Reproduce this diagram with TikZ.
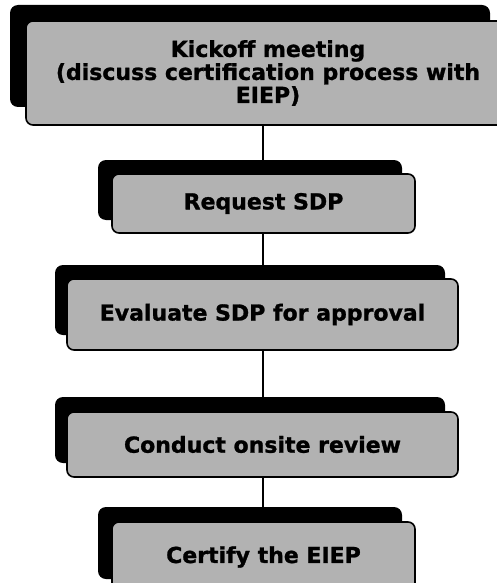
\documentclass[tikz,border=0pt]{standalone}
\usepackage{fontspec}
\setmainfont{DejaVu Sans}
\newfontfamily\boxfont{DejaVu Sans Bold}[FakeBold=1.2]
\begin{document}
\begin{tikzpicture}[x=1pt,y=-1pt,
  back/.style={fill=black, rounded corners=8pt, anchor=north west, inner sep=0pt, outer sep=0pt},
  front/.style={fill=black!30, draw=black, line width=1.6pt, rounded corners=7pt, anchor=north west,
    inner sep=0pt, outer sep=0pt, align=center, font=\boxfont\fontsize{22}{23}\selectfont},
  link/.style={draw=black, line width=1.4pt}]
\clip (0,0) rectangle (497,583);
\fill[white] (0,0) rectangle (497,583);
\coordinate (spine) at (263,0);
% box 1
\node[back, minimum width=480pt, minimum height=102pt] (k1) at (10,5) {};
\node[front, minimum width=484pt, minimum height=104pt] (f1) at (26,21)
  {Kickoff meeting\\(discuss certification process with\\EIEP)};
% box 2
\node[back, minimum width=304pt, minimum height=60pt] (k2) at (98,160) {};
\node[front, minimum width=303pt, minimum height=59pt] (f2) at (112,174) {Request SDP};
% box 3
\node[back, minimum width=390pt, minimum height=70pt] (k3) at (55,265) {};
\node[front, minimum width=391pt, minimum height=71pt] (f3) at (67,279) {Evaluate SDP for approval};
% box 4
\node[back, minimum width=390pt, minimum height=66pt] (k4) at (55,397) {};
\node[front, minimum width=391pt, minimum height=65pt] (f4) at (67,412) {Conduct onsite review};
% box 5
\node[back, minimum width=304pt, minimum height=72pt] (k5) at (98,507) {};
\node[front, minimum width=303pt, minimum height=70pt] (f5) at (112,522) {Certify the EIEP};
% connectors
\draw[link] (f1.south -| spine) -- (k2.north -| spine);
\draw[link] (f2.south -| spine) -- (k3.north -| spine);
\draw[link] (f3.south -| spine) -- (k4.north -| spine);
\draw[link] (f4.south -| spine) -- (k5.north -| spine);
\end{tikzpicture}
\end{document}
